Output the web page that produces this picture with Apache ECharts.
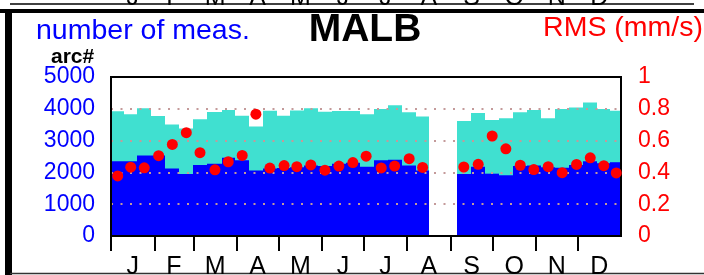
<!DOCTYPE html>
<html>
<head>
<meta charset="UTF-8">
<title>MALB</title>
<script src="https://cdn.jsdelivr.net/npm/echarts@6/dist/echarts.min.js"></script>
<style>
	html, body { width: 100%; height: 100%; margin: 0; padding: 0; background: #fff; }
	#chart { width: 704px; height: 275px; }
</style>
</head>
<body>
<div id="chart"></div>
<script>
// month letters, month boundaries and mid points (day of year)
var months = ['J', 'F', 'M', 'A', 'M', 'J', 'J', 'A', 'S', 'O', 'N', 'D'];
var monthStart = [0, 31, 59, 90, 120, 151, 181, 212, 243, 273, 304, 334];
var monthMid = [15.5, 45, 74.5, 105, 135.5, 166, 196.5, 227.5, 258, 288.5, 319, 349.5];

// centre of each ~10 day bin (day of year)
var binDay = [4.8, 14.1, 23.8, 34.1, 43.9, 53.9, 63.7, 74.4, 83.9, 93.9, 103.7, 113.7, 123.9,
	133.0, 143.0, 153.1, 163.1, 173.1, 182.6, 193.4, 203.0, 213.4, 223.0, 232.5, 242.5,
	252.5, 262.8, 272.8, 282.6, 292.9, 302.6, 312.9, 322.9, 333.2, 343.0, 352.7, 361.6];

// number of measurements (all) per bin
var numAll = [3920, 3830, 4020, 3770, 3510, 3380, 3670, 3900, 3960, 3780, 3440, 3940, 3780,
	3950, 4020, 3910, 3930, 3930, 3830, 3990, 4110, 3890, 3760, null, null,
	3620, 3870, 3650, 3700, 3890, 3960, 3700, 3990, 4040, 4200, 3990, 3940];

// number of arcs used per bin
var numArc = [2350, 2350, 2530, 2530, 2120, 1950, 2230, 2270, 2460, 2380, 2060, 2120, 2140,
	2160, 2220, 2200, 2270, 2300, 2180, 2380, 2400, 2220, 2060, null, null,
	1950, 2180, 1960, 1910, 2200, 2220, 2160, 2150, 2230, 2350, 2290, 2320];

// RMS (mm/s) per bin
var rms = [0.378, 0.433, 0.429, 0.505, 0.576, 0.650, 0.524, 0.416, 0.467, 0.507, 0.766, 0.427, 0.443,
	0.436, 0.447, 0.414, 0.440, 0.462, 0.502, 0.428, 0.440, 0.486, 0.431, null, null,
	0.434, 0.451, 0.629, 0.548, 0.445, 0.418, 0.436, 0.398, 0.450, 0.492, 0.442, 0.397];

var font = "'Liberation Sans', Arial, sans-serif";

function stepRect(values, color) {
	return function(params, api) {
		var i = params.dataIndex;
		var v = values[i];
		if(v == null) return;
		var lo = i === 0 ? 0 : (binDay[i - 1] + binDay[i]) / 2;
		var hi = i === binDay.length - 1 ? 365 : (binDay[i] + binDay[i + 1]) / 2;
		var p0 = api.coord([lo, v]);
		var p1 = api.coord([hi, 0]);
		var x0 = Math.round(p0[0]);
		var x1 = Math.round(p1[0]);
		return {
			type: 'rect',
			shape: { x: x0, y: p0[1], width: x1 - x0, height: p1[1] - p0[1] },
			style: { fill: color }
		};
	};
}

function pairs(values) {
	return binDay.map(function(d, i) { return [d, values[i] == null ? '-' : values[i]]; });
}

function monthLetter(v) {
	var i = monthMid.indexOf(v);
	return i < 0 ? '' : months[i];
}

function plain(v) {
	return String(v);
}

var chart = echarts.init(document.getElementById('chart'));
chart.setOption({
	animation: false,
	backgroundColor: '#fff',
	textStyle: { fontFamily: font },
	grid: {
		left: 111, right: 83, top: 77, bottom: 39,
		outerBoundsMode: 'none', containLabel: false,
		show: true, borderColor: '#000', borderWidth: 2, z: 8
	},
	xAxis: [{
		type: 'value', min: 0, max: 365,
		axisLine: { show: false },
		splitLine: { show: false },
		axisTick: {
			show: true, length: 15, customValues: monthStart,
			lineStyle: { color: '#000', width: 2 }
		},
		axisLabel: {
			customValues: monthMid, formatter: monthLetter,
			color: '#000', fontSize: 25, margin: 19, fontFamily: font
		}
	}, {
		// month letters of the panel above, cut by the top edge
		type: 'value', min: 0, max: 365, position: 'top', offset: 58,
		axisLine: { show: false }, axisTick: { show: false }, splitLine: { show: false },
		axisLabel: {
			customValues: monthMid, formatter: monthLetter,
			color: '#000', fontSize: 25, margin: 8, fontFamily: font
		}
	}],
	yAxis: [{
		type: 'value', min: 0, max: 5000, interval: 1000, position: 'left', z: 5,
		axisLine: { show: false }, axisTick: { show: false },
		axisLabel: { color: '#0000ff', fontSize: 23, margin: 16, fontFamily: font, formatter: plain },
		splitLine: { show: true, lineStyle: { color: '#c49a9a', type: [2, 7.5], width: 2 } }
	}, {
		type: 'value', min: 0, max: 1, interval: 0.2, position: 'right',
		axisLine: { show: false }, axisTick: { show: false },
		axisLabel: { color: '#ff0000', fontSize: 23, margin: 17, fontFamily: font, formatter: plain },
		splitLine: { show: false }
	}],
	graphic: [
		{ type: 'rect', shape: { x: 0, y: 9, width: 704, height: 4 }, style: { fill: '#000' } },
		{ type: 'rect', shape: { x: 5, y: 9, width: 7, height: 266 }, style: { fill: '#000' } },
		{ type: 'line', shape: { x1: 10, y1: 4, x2: 694, y2: 4 }, style: { stroke: '#000', lineWidth: 1.5 } },
		{ type: 'line', shape: { x1: 10, y1: 273.5, x2: 704, y2: 273.5 }, style: { stroke: '#333', lineWidth: 1.5 } },
		{ type: 'text', x: 36, y: 31, style: { text: 'number of meas.', fill: '#0000ff', font: '28.5px ' + font, textVerticalAlign: 'middle' } },
		{ type: 'text', x: 365, y: 30, style: { text: 'MALB', fill: '#000', font: 'bold 39px ' + font, textAlign: 'center', textVerticalAlign: 'middle' } },
		{ type: 'text', x: 703, y: 28, style: { text: 'RMS (mm/s)', fill: '#ff0000', font: '28.5px ' + font, textAlign: 'right', textVerticalAlign: 'middle' } },
		{ type: 'text', x: 51, y: 57, style: { text: 'arc#', fill: '#000', font: 'bold 21px ' + font, textVerticalAlign: 'middle' } }
	],
	series: [{
		type: 'custom', name: 'all', z: 1,
		renderItem: stepRect(numAll, '#40e0d0'),
		encode: { x: 0, y: 1 },
		data: pairs(numAll)
	}, {
		type: 'custom', name: 'arcs', z: 2,
		renderItem: stepRect(numArc, '#0000ff'),
		encode: { x: 0, y: 1 },
		data: pairs(numArc)
	}, {
		type: 'scatter', name: 'rms', yAxisIndex: 1, z: 10,
		symbol: 'circle', symbolSize: 11,
		itemStyle: { color: '#ff0000', opacity: 1 },
		data: pairs(rms)
	}]
});
</script>
</body>
</html>
